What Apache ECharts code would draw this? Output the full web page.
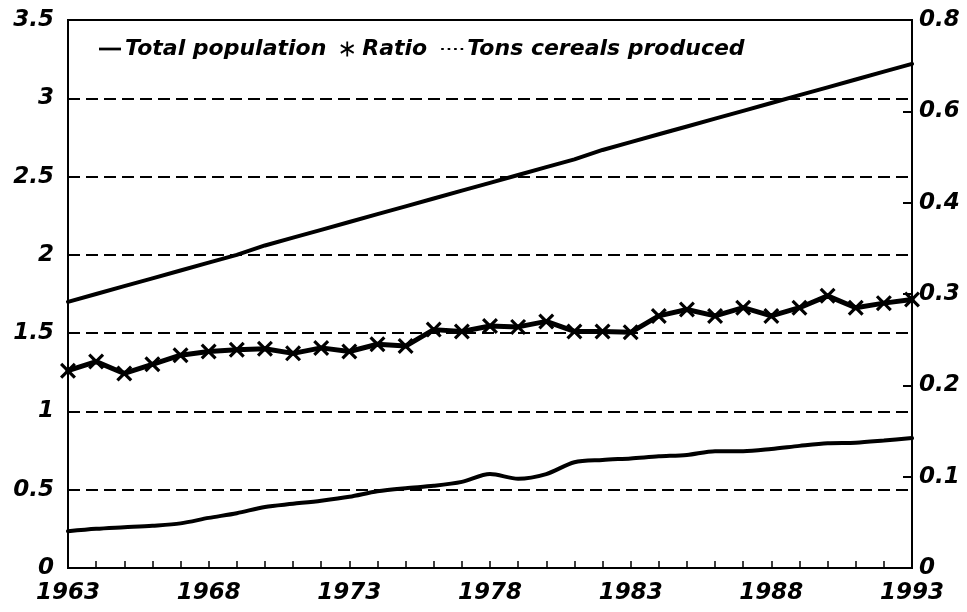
<!DOCTYPE html>
<html>
<head>
<meta charset="utf-8">
<script src="https://cdn.jsdelivr.net/npm/echarts@6/dist/echarts.min.js"></script>
<style>html,body{margin:0;padding:0;background:#fff}#c{width:967px;height:612px}</style>
</head>
<body>
<div id="c"></div>
<script>
var years = ['1963','1964','1965','1966','1967','1968','1969','1970','1971','1972','1973','1974','1975','1976','1977','1978','1979','1980','1981','1982','1983','1984','1985','1986','1987','1988','1989','1990','1991','1992','1993'];
var totalPopulation = [1.70,1.75,1.80,1.85,1.90,1.95,2.00,2.06,2.11,2.16,2.21,2.26,2.31,2.36,2.41,2.46,2.51,2.56,2.61,2.67,2.72,2.77,2.82,2.87,2.92,2.97,3.02,3.07,3.12,3.17,3.22];
var ratio = [0.216,0.226,0.213,0.223,0.233,0.237,0.239,0.240,0.235,0.241,0.237,0.245,0.243,0.261,0.259,0.265,0.264,0.270,0.259,0.259,0.258,0.276,0.283,0.276,0.285,0.276,0.285,0.298,0.285,0.290,0.294];
var cereals = [0.235,0.25,0.26,0.27,0.285,0.32,0.35,0.39,0.41,0.43,0.455,0.49,0.51,0.525,0.55,0.60,0.57,0.60,0.675,0.69,0.70,0.713,0.722,0.746,0.746,0.76,0.78,0.797,0.80,0.814,0.83];
var leftTickLabels = ['0','0.5','1','1.5','2','2.5','3','3.5'];
var rightTickLabels = ['0','0.1','0.2','0.3','0.4','0.6','0.8'];

var FONT = 'DejaVu Sans';
var labelStyle = {fontFamily: FONT, fontWeight: 'bold', fontStyle: 'italic', fontSize: 23, color: '#000'};
var xMark = 'path://M0,1.4 L1.4,0 L5,3.6 L8.6,0 L10,1.4 L6.4,5 L10,8.6 L8.6,10 L5,6.4 L1.4,10 L0,8.6 L3.6,5 Z';
var asterisk = 'path://M4.4,0 H5.6 V3.9 L9,1.9 L9.6,3 L6.2,5 L9.6,7 L9,8.1 L5.6,6.1 V10 H4.4 V6.1 L1,8.1 L0.4,7 L3.8,5 L0.4,3 L1,1.9 L4.4,3.9 Z';

var chart = echarts.init(document.getElementById('c'), null, {renderer: 'canvas'});
chart.setOption({
  backgroundColor: '#fff',
  animation: false,
  grid: {left: 68, right: 55, top: 20, bottom: 44, show: true, borderColor: '#000', borderWidth: 2, backgroundColor: 'transparent'},
  legend: {
    left: 94, top: 33, itemGap: 14, itemWidth: 22, itemHeight: 15,
    textStyle: {fontFamily: FONT, fontWeight: 'bold', fontStyle: 'italic', fontSize: 22, color: '#000', padding: [0,0,0,-1]},
    data: [
      {name: 'Total population', icon: 'path://M0,4 H20 V6.5 H0 Z', itemStyle: {color: '#000'}},
      {name: 'Ratio', icon: asterisk, itemStyle: {color: '#000'}},
      {name: 'Tons cereals produced', icon: 'path://M0,5 H2 V6.5 H0 Z M5,5 H7 V6.5 H5 Z M10,5 H12 V6.5 H10 Z M15,5 H17 V6.5 H15 Z', itemStyle: {color: '#000'}}
    ]
  },
  xAxis: {
    type: 'category', data: years, boundaryGap: false,
    axisLine: {lineStyle: {color: '#000', width: 2}},
    axisTick: {show: true, inside: true, length: 7, interval: 0, lineStyle: {color: '#000', width: 1.5}},
    axisLabel: Object.assign({interval: 4, margin: 14}, labelStyle),
    splitLine: {show: false}
  },
  yAxis: [
    {
      type: 'value', min: 0, max: 3.5, interval: 0.5, position: 'left',
      axisLine: {show: true, lineStyle: {color: '#000', width: 2}},
      axisTick: {show: false},
      axisLabel: Object.assign({margin: 14, formatter: function (v) { return leftTickLabels[Math.round(v * 2)]; }}, labelStyle),
      splitLine: {show: true, lineStyle: {color: '#000', width: 2, type: [12, 6]}}
    },
    {
      type: 'value', min: 0, max: 0.6, interval: 0.1, position: 'right',
      axisLine: {show: true, lineStyle: {color: '#000', width: 2}},
      axisTick: {show: true, inside: true, length: 9, lineStyle: {color: '#000', width: 2}},
      axisLabel: Object.assign({margin: 7, formatter: function (v) { return rightTickLabels[Math.round(v * 10)]; }}, labelStyle),
      splitLine: {show: false}
    }
  ],
  series: [
    {
      name: 'Total population', type: 'line', yAxisIndex: 0, data: totalPopulation,
      symbol: 'none', lineStyle: {color: '#000', width: 4, cap: 'round'}, itemStyle: {color: '#000'}
    },
    {
      name: 'Ratio', type: 'line', yAxisIndex: 1, data: ratio,
      symbol: xMark, symbolSize: 16, showAllSymbol: true,
      lineStyle: {color: '#000', width: 5, cap: 'round', join: 'round'}, itemStyle: {color: '#000'}
    },
    {
      name: 'Tons cereals produced', type: 'line', yAxisIndex: 0, data: cereals, smooth: 0.3,
      symbol: 'none', lineStyle: {color: '#000', width: 4, cap: 'round'}, itemStyle: {color: '#000'}
    }
  ]
});
</script>
</body>
</html>
